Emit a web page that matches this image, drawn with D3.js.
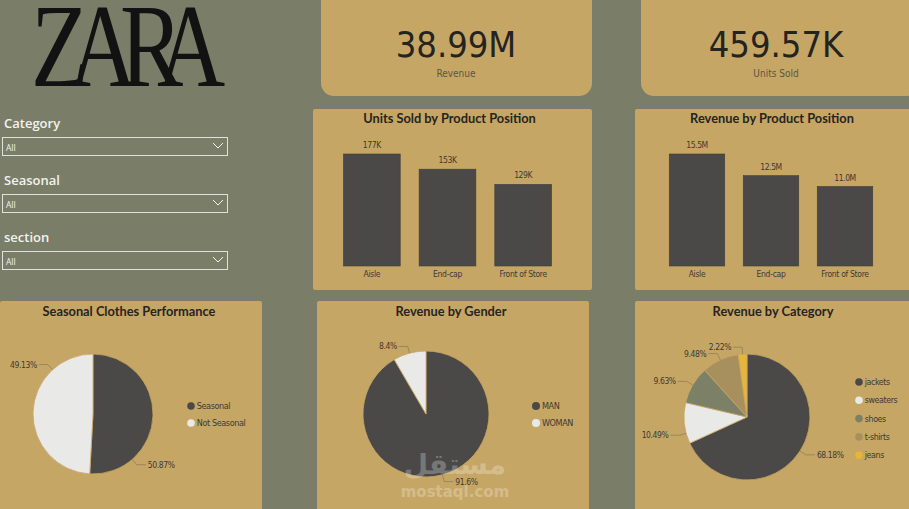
<!DOCTYPE html>
<html><head><meta charset="utf-8">
<script src="https://cdn.jsdelivr.net/npm/d3@7"></script>
<style>
html,body{margin:0;padding:0;background:#7a7e68;}
svg{display:block;}
</style></head>
<body>
<svg id="c" width="909" height="509"></svg>
<script>
// ---- data ----
const kpiValues = ["38.99M", "459.57K"];
const kpiLabels = ["Revenue", "Units Sold"];
const slicerLabels = ["Category", "Seasonal", "section"];
const slicerValues = ["All", "All", "All"];
const positions = ["Aisle", "End-cap", "Front of Store"];
const unitsSold = [177, 153, 129];          // K
const unitsLabels = ["177K", "153K", "129K"];
const revenuePos = [15.5, 12.5, 11.0];      // M
const revenueLabels = ["15.5M", "12.5M", "11.0M"];
const seasonalCats = ["Seasonal", "Not Seasonal"];
const seasonalPct = [50.87, 49.13];
const genderCats = ["MAN", "WOMAN"];
const genderPct = [91.6, 8.4];
const genderLabels = ["91.6%", "8.4%"];
const categoryCats = ["jackets", "sweaters", "shoes", "t-shirts", "jeans"];
const categoryPct = [68.18, 10.49, 9.63, 9.48, 2.22];
const logoText = "ZARA";

// ---- style ----
const BG = "#7a7e68", CARD = "#c6a664", DARK = "#4a4948", TXT = "#3c3a36";
const svg = d3.select("#c");
svg.append("rect").attr("width", 909).attr("height", 509).attr("fill", BG);

// ZARA logo (one text, overlapping glyphs)
const sx = 0.8;
const glyphX = [31, 69, 120, 157].map(v => v / sx);
svg.append("text").attr("transform", `scale(${sx},1)`)
  .attr("x", glyphX.join(" ")).attr("y", 86)
  .attr("font-family", "Liberation Serif, DejaVu Serif, serif")
  .attr("font-size", 118).attr("fill", "#121212")
  .text(logoText);

// KPI cards
const kpiX = [321, 641], kpiW = [271, 278];
kpiValues.forEach((v, i) => {
  svg.append("rect").attr("x", kpiX[i]).attr("y", -14).attr("width", kpiW[i]).attr("height", 110)
    .attr("rx", 13).attr("fill", CARD);
  const cx = kpiX[i] + 135;
  svg.append("text").attr("x", cx).attr("y", 57).attr("text-anchor", "middle")
    .attr("font-family", "DejaVu Sans Condensed, DejaVu Sans, sans-serif")
    .attr("font-size", 36).attr("fill", "#24231f").text(v);
  svg.append("text").attr("x", cx).attr("y", 77).attr("text-anchor", "middle")
    .attr("font-family", "DejaVu Sans Condensed, DejaVu Sans, sans-serif")
    .attr("font-size", 10).attr("fill", "#5a5548").text(kpiLabels[i]);
});

// slicers
slicerLabels.forEach((lab, i) => {
  const y0 = 123 + i * 57;
  svg.append("text").attr("x", 4).attr("y", y0 + 5)
    .attr("font-family", "Open Sans, sans-serif").attr("font-weight", 600)
    .attr("font-size", 13).attr("fill", "#f2f2ee").text(lab);
  svg.append("rect").attr("x", 2.5).attr("y", y0 + 14.5).attr("width", 225).attr("height", 18)
    .attr("fill", "none").attr("stroke", "#e2e2da").attr("stroke-width", 1);
  svg.append("text").attr("x", 6).attr("y", y0 + 27.5)
    .attr("font-family", "Open Sans, sans-serif").attr("font-size", 8.5).attr("fill", "#f2f2ee")
    .text(slicerValues[i]);
  svg.append("path").attr("d", `M213,${y0 + 20} L218,${y0 + 25} L223,${y0 + 20}`)
    .attr("fill", "none").attr("stroke", "#f2f2ee").attr("stroke-width", 1);
});

function card(x, y, w, h) {
  svg.append("rect").attr("x", x).attr("y", y).attr("width", w).attr("height", h)
    .attr("rx", 2).attr("fill", CARD);
}
function title(x, y, t) {
  svg.append("text").attr("x", x).attr("y", y).attr("text-anchor", "middle")
    .attr("font-family", "Lato, sans-serif").attr("font-weight", 700)
    .attr("font-size", 12.8).attr("fill", "#26241f").text(t);
}

// bar charts
function barChart(px, pw, ttl, values, labels, r0, r1) {
  card(px, 109, pw, 181);
  title(px + pw / 2 - 3, 123, ttl);
  const x = d3.scaleBand().domain(positions).range([r0, r1]).paddingInner(0.25).paddingOuter(0.125);
  const y = d3.scaleLinear().domain([0, d3.max(values)]).range([266, 154]);
  const g = svg.append("g");
  g.selectAll("rect").data(values).join("rect")
    .attr("x", (d, i) => x(positions[i])).attr("width", x.bandwidth())
    .attr("y", d => y(d)).attr("height", d => y(0) - y(d))
    .attr("fill", DARK).attr("stroke", "#3f3e3c").attr("stroke-width", 0.6);
  g.selectAll("text.v").data(values).join("text").attr("class", "v")
    .attr("x", (d, i) => x(positions[i]) + x.bandwidth() / 2).attr("y", d => y(d) - 6)
    .attr("text-anchor", "middle").attr("font-family", "DejaVu Sans Condensed, sans-serif")
    .attr("font-size", 8.5).attr("fill", TXT).attr("letter-spacing", -0.4)
    .text((d, i) => labels[i]);
  const ax = d3.axisBottom(x).tickSize(0).tickPadding(0);
  const axg = svg.append("g").attr("transform", "translate(0,270)").call(ax);
  axg.select(".domain").remove();
  axg.selectAll("text").attr("font-family", "DejaVu Sans Condensed, sans-serif")
    .attr("font-size", 8.5).attr("fill", TXT).attr("letter-spacing", -0.3).attr("dy", "0.85em");
}
barChart(313, 279, "Units Sold by Product Position", unitsSold, unitsLabels, 334, 561);
barChart(635, 280, "Revenue by Product Position", revenuePos, revenueLabels, 660, 882);

// pies
function pieChart(opt) {
  card(opt.px, 301, opt.pw, 215);
  title(opt.px + opt.pw / 2 - 2, 316, opt.title);
  const pie = d3.pie().sort(null).value(d => d);
  const arcs = pie(opt.values);
  const arc = d3.arc().innerRadius(0).outerRadius(opt.r);
  const g = svg.append("g").attr("transform", `translate(${opt.cx},${opt.cy})`);
  g.selectAll("path").data(arcs).join("path").attr("d", arc)
    .attr("fill", (d, i) => opt.colors[i]).attr("stroke", CARD).attr("stroke-width", 0.8);
  arcs.forEach((a, i) => {
    const f = opt.frac ? opt.frac[i] : 0.5;
    const ang = a.startAngle + (a.endAngle - a.startAngle) * f;
    const sx = Math.sin(ang), sy = -Math.cos(ang);
    const p1 = [sx * opt.r, sy * opt.r], p2 = [sx * (opt.r + 7), sy * (opt.r + 7)];
    const dir = sx >= 0 ? 1 : -1;
    const p3 = [p2[0] + dir * 9, p2[1]];
    g.append("path").attr("d", `M${p1}L${p2}L${p3}`).attr("fill", "none")
      .attr("stroke", "#8a7a55").attr("stroke-width", 0.7);
    g.append("text").attr("x", p3[0] + dir * 2).attr("y", p3[1]).attr("dy", "0.35em")
      .attr("text-anchor", dir > 0 ? "start" : "end")
      .attr("font-family", "DejaVu Sans Condensed, sans-serif").attr("font-size", 8.5)
      .attr("letter-spacing", -0.4).attr("fill", TXT)
      .text(opt.labels ? opt.labels[i] : opt.values[i].toFixed(2) + "%");
  });
  opt.cats.forEach((c, i) => {
    const ly = opt.ly + i * opt.lstep;
    svg.append("circle").attr("cx", opt.lx).attr("cy", ly).attr("r", opt.lr).attr("fill", opt.colors[i]);
    svg.append("text").attr("x", opt.lx + opt.lr + 2).attr("y", ly).attr("dy", "0.35em")
      .attr("font-family", "DejaVu Sans Condensed, sans-serif").attr("font-size", opt.lfs)
      .attr("letter-spacing", -0.4).attr("fill", TXT).text(c);
  });
}
pieChart({px: 0, pw: 262, title: "Seasonal Clothes Performance", cx: 93, cy: 414, r: 60,
  values: seasonalPct, cats: seasonalCats, colors: [DARK, "#e9e9e8"], frac: [0.76, 0.76],
  lx: 191, ly: 406, lstep: 17, lr: 3.8, lfs: 9});
pieChart({px: 317, pw: 272, title: "Revenue by Gender", cx: 426, cy: 414, r: 63,
  values: genderPct, cats: genderCats, colors: [DARK, "#e9e9e8"], labels: genderLabels,
  lx: 536, ly: 406, lstep: 17, lr: 4, lfs: 9});
pieChart({px: 635, pw: 280, title: "Revenue by Category", cx: 747, cy: 417, r: 63,
  values: categoryPct, cats: categoryCats, colors: [DARK, "#e9e9e8", "#7b8066", "#a8905e", "#e6b53a"],
  frac: [0.5, 0.25, 0.5, 0.5, 0.5],
  lx: 859, ly: 382, lstep: 18.3, lr: 3.8, lfs: 8.8});

// watermark
svg.append("text").attr("x", 455).attr("y", 474).attr("text-anchor", "middle")
  .attr("font-family", "DejaVu Sans, sans-serif").attr("font-weight", 700).attr("font-size", 28)
  .attr("fill", "#ffffff").attr("opacity", 0.25).text("مستقل");
svg.append("text").attr("x", 455).attr("y", 497).attr("text-anchor", "middle")
  .attr("font-family", "DejaVu Sans, sans-serif").attr("font-weight", 700).attr("font-size", 15)
  .attr("fill", "#ffffff").attr("opacity", 0.25).text("mostaql.com");
</script>
</body></html>
